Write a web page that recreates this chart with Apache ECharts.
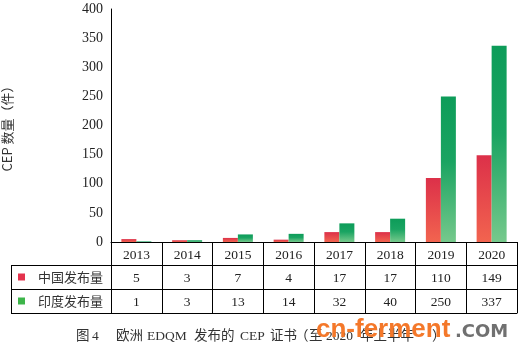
<!DOCTYPE html>
<html>
<head>
<meta charset="utf-8">
<script src="https://cdn.jsdelivr.net/npm/echarts@6/dist/echarts.min.js"></script>
<style>
html, body { margin: 0; padding: 0; background: #fff; }
#main { width: 522px; height: 354px; }
</style>
</head>
<body>
<div id="main"></div>
<script>
var years = ['2013', '2014', '2015', '2016', '2017', '2018', '2019', '2020'];
var chinaVals = [5, 3, 7, 4, 17, 17, 110, 149];
var indiaVals = [1, 3, 13, 14, 32, 40, 250, 337];
var seriesNames = ['中国发布量', '印度发布量'];
var yTicks = { min: 0, max: 400, interval: 50 };

var serif = 'Liberation Serif, Times New Roman, serif';
var cjk = 'Noto Sans CJK SC, sans-serif';

/* 柱子渐变 */
var redBar = new echarts.graphic.LinearGradient(0, 0, 0, 1, [
	{ offset: 0, color: '#dc3049' },
	{ offset: 1, color: '#f2644f' }
]);
var greenBar = new echarts.graphic.LinearGradient(0, 0, 0, 1, [
	{ offset: 0, color: '#0d9c59' },
	{ offset: 0.45, color: '#1aa462' },
	{ offset: 1, color: '#76c98c' }
]);

// 表格行（数据表）
function tableAxis(offset, vals) {
	return {
		type: 'category',
		data: years,
		position: 'bottom',
		offset: offset,
		axisLine: { show: true, lineStyle: { color: '#000', width: 1 } },
		axisTick: { show: false },
		axisLabel: {
			show: !!vals,
			interval: 0,
			margin: 6,
			color: '#222',
			fontFamily: serif,
			fontSize: 13.5,
			formatter: function (v, i) { return vals ? String(vals[i]) : ''; }
		}
	};
}

// 图题分段
var captionParts = [
	['图', 76], ['4', 92], ['欧洲', 116], ['EDQM', 147], ['发布的', 194],
	['CEP', 240], ['证书', 270], ['（', 295], ['至', 309], ['2020', 326],
	['年上半年', 360], ['）', 432]
];
var captionGraphics = captionParts.map(function (p) {
	return {
		type: 'text', left: p[1], top: 330,
		style: {
			text: p[0], fill: '#333',
			font: '13.5px ' + serif + ', Noto Sans CJK SC',
			letterSpacing: p[0] === '年上半年' ? 1.5 : 0
		}
	};
});

var myChart = echarts.init(document.getElementById('main'));
var option = {
	animation: false,
	grid: { left: 111, right: 5, top: 9, bottom: 112, outerBoundsMode: 'none', containLabel: false },
	legend: {
		orient: 'vertical',
		left: 18,
		top: 269,
		padding: 0,
		itemGap: 8,
		itemWidth: 7,
		itemHeight: 7,
		icon: 'rect',
		selectedMode: false,
		textStyle: {
			color: '#333',
			fontFamily: cjk,
			fontSize: 13,
			lineHeight: 16,
			padding: [0, 0, 0, 8]
		},
		data: [
			{ name: seriesNames[0], itemStyle: { color: '#e4334d' } },
			{ name: seriesNames[1], itemStyle: { color: '#3db54a' } }
		]
	},
	xAxis: [{
		type: 'category',
		data: years,
		axisLine: { show: true, lineStyle: { color: '#000', width: 1 } },
		axisTick: { show: true, interval: 0, length: 71, lineStyle: { color: '#000' } },
		axisLabel: {
			interval: 0,
			margin: 6,
			color: '#222',
			fontFamily: serif,
			fontSize: 13.5
		}
	},
		tableAxis(23, chinaVals),
		tableAxis(47, indiaVals),
		tableAxis(71, null)
	],
	yAxis: {
		type: 'value',
		min: yTicks.min,
		max: yTicks.max,
		interval: yTicks.interval,
		name: 'CEP 数量（件）',
		nameLocation: 'middle',
		nameGap: 97,
		nameTextStyle: { color: '#333', fontFamily: cjk, fontSize: 13 },
		axisLine: { show: true, lineStyle: { color: '#000', width: 1 } },
		axisTick: { show: false },
		splitLine: { show: false },
		axisLabel: { color: '#222', fontFamily: serif, fontSize: 14, margin: 8 }
	},
	series: [{
		name: seriesNames[0],
		type: 'bar',
		data: chinaVals,
		barWidth: 15,
		barGap: '0%',
		itemStyle: { color: redBar }
	}, {
		name: seriesNames[1],
		type: 'bar',
		data: indiaVals,
		barWidth: 15,
		itemStyle: { color: greenBar }
	}],
	graphic: [
		// 表格左侧部分
		{ type: 'line', shape: { x1: 11, y1: 265.5, x2: 111, y2: 265.5 }, style: { stroke: '#000', lineWidth: 1 } },
		{ type: 'line', shape: { x1: 11, y1: 289.5, x2: 111, y2: 289.5 }, style: { stroke: '#000', lineWidth: 1 } },
		{ type: 'line', shape: { x1: 11, y1: 313.5, x2: 111, y2: 313.5 }, style: { stroke: '#000', lineWidth: 1 } },
		{ type: 'line', shape: { x1: 11.5, y1: 265, x2: 11.5, y2: 314 }, style: { stroke: '#000', lineWidth: 1 } },
		// 水印
		{
			type: 'text', left: 316, top: 317, z: 10,
			style: { text: 'cn-ferment', fill: '#f4782a', font: 'bold 26px Liberation Sans, Arial, sans-serif' }
		},
		{
			type: 'text', left: 455, top: 323, z: 10,
			style: { text: '.COM', fill: '#707070', font: 'bold 18px DejaVu Sans, sans-serif' }
		}
	].concat(captionGraphics)
};
myChart.setOption(option);
</script>
</body>
</html>
